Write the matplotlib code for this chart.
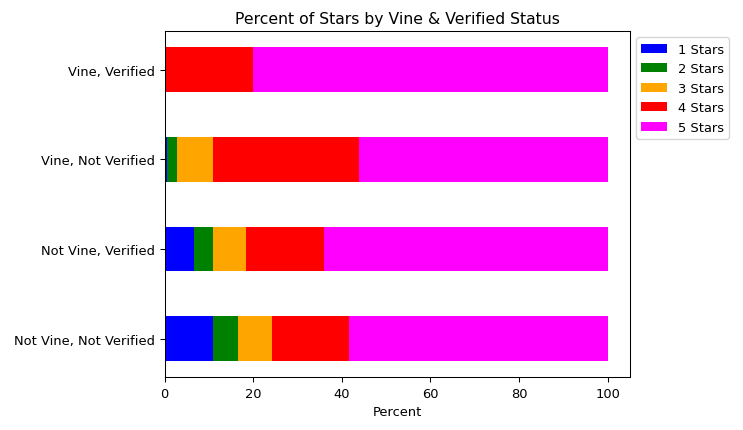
import matplotlib
matplotlib.use("Agg")
import matplotlib.pyplot as plt
import numpy as np

categories = ["Not Vine, Not Verified", "Not Vine, Verified", "Vine, Not Verified", "Vine, Verified"]
series_names = ["1 Stars", "2 Stars", "3 Stars", "4 Stars", "5 Stars"]
stars_1 = [10.9, 6.6, 0.6, 0.0]
stars_2 = [5.7, 4.3, 2.25, 0.0]
stars_3 = [7.7, 7.5, 8.05, 0.0]
stars_4 = [17.4, 17.5, 32.9, 20.0]
stars_5 = [58.3, 64.1, 56.2, 80.0]
colors = ["blue", "green", "orange", "red", "magenta"]

s = 0.935
plt.rcParams.update({
    "font.size": 10 * s,
    "axes.titlesize": 12 * s,
    "axes.linewidth": 0.8 * s,
    "xtick.major.size": 3.5 * s,
    "ytick.major.size": 3.5 * s,
    "xtick.major.width": 0.8 * s,
    "ytick.major.width": 0.8 * s,
})

fig = plt.figure(figsize=(7.43, 4.31), dpi=100)
ax = fig.add_axes([0.2217, 0.1223, 0.6258, 0.8035])
y = np.arange(len(categories))
left = np.zeros(len(categories))
for name, vals, c in zip(series_names, [stars_1, stars_2, stars_3, stars_4, stars_5], colors):
    ax.barh(y, vals, left=left, height=0.5, color=c, label=name)
    left = left + np.array(vals)
ax.set_yticks(y)
ax.set_yticklabels(categories)
ax.set_ylim(-0.43, 3.43)
ax.set_xlim(0, 105)
ax.set_xlabel("Percent")
ax.set_title("Percent of Stars by Vine & Verified Status")
ax.legend(loc="upper left", bbox_to_anchor=(1.0, 1.0))
fig.savefig("out.png", dpi=100)
